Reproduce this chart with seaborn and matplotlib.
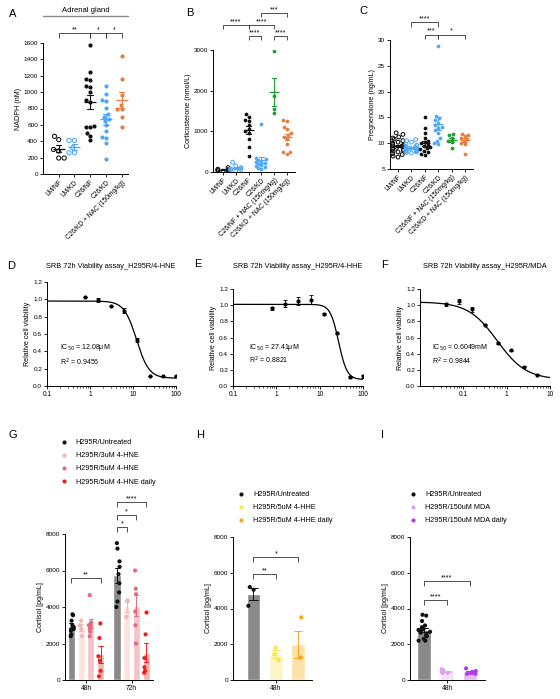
import numpy as np
import pandas as pd
import matplotlib
matplotlib.use("Agg")
import matplotlib.pyplot as plt
import seaborn as sns
from matplotlib.lines import Line2D
from matplotlib.ticker import FuncFormatter, LogLocator, NullFormatter

np.random.seed(3)

# ---------------- data ----------------
# Panel A: NADPH (nM), adrenal gland
a_cats = ["LM/NF", "LM/KD", "C26/NF", "C26/KD", "C26/KD + NAC (150mg/kg)"]
a_lmnf = [460, 420, 280, 195, 195, 300]
a_lmkd = [410, 410, 320, 260, 260]
a_c26nf = [1580, 1250, 1160, 1150, 1070, 1060, 1000, 900, 880, 590, 580, 570, 500, 470, 410]
a_c26kd = [1080, 980, 900, 890, 810, 730, 700, 670, 650, 600, 530, 450, 440, 380, 180]
a_c26kd_nac = [1440, 1160, 960, 840, 800, 790, 700, 570]

# Panel B: Corticosterone (nmol/L)
b_cats = ["LM/NF", "LM/KD", "C26/NF", "C26/KD", "C26/NF + NAC (150mg/kg)", "C26/KD + NAC (150mg/kg)"]
b_lmnf = [110, 70, 50, 40, 30, 20, 60]
b_lmkd = [240, 150, 100, 80, 60, 50, 30, 100]
b_c26nf = [1420, 1350, 1280, 1250, 1150, 1050, 1000, 950, 800, 620, 400]
b_c26kd = [1180, 350, 320, 300, 280, 250, 230, 200, 180, 150, 120, 100, 80]
b_c26nf_nac = [2980, 1880, 1550, 1450]
b_c26kd_nac = [1280, 1250, 1100, 1050, 950, 900, 870, 800, 700, 500, 450, 480]

# Panel C: Pregnenolone (ng/mL)
c_cats = b_cats
c_lmnf = [12, 11.7, 11.2, 11, 10.5, 10.2, 10, 9.8, 9.6, 9.5, 9.3, 9.2, 9, 8.8, 8.6, 8.5,
          8.3, 8, 7.8, 7.5, 7.3, 9.4, 10.8, 8.9]
c_lmkd = [10.7, 10.5, 10.2, 9.8, 9.5, 9.3, 9.1, 9, 8.9, 8.7, 8.6, 8.5, 8.4, 8.3, 8.2, 8.8,
          9.2, 8.1, 8.5, 9.6]
c_c26nf = [15, 13, 12, 11, 10.5, 10, 9.5, 9.2, 9, 8.8, 8.5, 8.3, 8, 7.8, 9.7, 10.2]
c_c26kd = [28.8, 15.3, 14.8, 14.5, 14, 13.5, 13.2, 13, 12.5, 12, 11, 10.5, 10, 9.8]
c_c26nf_nac = [11.7, 11.5, 11, 10.5, 10.2, 9]
c_c26kd_nac = [11.8, 11.6, 11.3, 11, 10.8, 10.5, 10, 9.8, 8]

# Panels D-F: SRB viability
d_conc = [0.78125, 1.5625, 3.125, 6.25, 12.5, 25, 50, 100]
d_resp = [1.03, 0.99, 0.92, 0.87, 0.53, 0.11, 0.11, 0.11]
d_err = [0.0, 0.02, 0.0, 0.03, 0.02, 0.0, 0.01, 0.01]
d_fit = dict(top=0.98, bottom=0.09, ic50=12.08, hill=3.0)

e_conc = [0.78125, 1.5625, 3.125, 6.25, 12.5, 25, 50, 100]
e_resp = [0.96, 1.02, 1.05, 1.07, 0.89, 0.65, 0.11, 0.12]
e_err = [0.02, 0.04, 0.05, 0.05, 0.01, 0.01, 0.01, 0.02]
e_fit = dict(top=1.01, bottom=0.08, ic50=27.41, hill=4.5)

f_conc = [0.039, 0.078, 0.156, 0.3125, 0.625, 1.25, 2.5, 5]
f_resp = [1.01, 1.05, 0.95, 0.76, 0.53, 0.44, 0.24, 0.14]
f_err = [0.02, 0.03, 0.03, 0.01, 0.01, 0.01, 0.01, 0.01]
f_fit = dict(top=1.04, bottom=0.08, ic50=0.6049, hill=1.3)

# Panel G: Cortisol, 4-HNE
g_groups = ["H295R/Untreated", "H295R/3uM 4-HNE", "H295R/5uM 4-HNE", "H295R/5uM 4-HNE daily"]
g_48h = [[3600, 3550, 3250, 3000, 2900, 2800, 2700, 2500, 2400],
         [3250, 3000, 2800, 2400],
         [4650, 3150, 3100, 3000, 2950, 2800, 2650, 2400],
         [3100, 2300, 1300, 1050, 500, 200]]
g_72h = [[7500, 7200, 6500, 6200, 5800, 5300, 4800, 4300, 4000],
         [4350, 4300, 3450],
         [6000, 5000, 4700, 3750, 3000, 2000],
         [3700, 2500, 1200, 700, 500, 400]]

# Panel H: Cortisol, 4-HHE
h_groups = ["H295R/Untreated", "H295R/5uM 4-HHE", "H295R/5uM 4-HHE daily"]
h_48h = [[5200, 5050, 4150], [1800, 1450, 1100], [3500, 1250, 1250]]

# Panel I: Cortisol, MDA
i_groups = ["H295R/Untreated", "H295R/150uM MDA", "H295R/150uM MDA daily"]
i_48h = [[3650, 3600, 3300, 3050, 2950, 2850, 2800, 2750, 2700, 2650, 2600, 2500, 2450,
          2300, 2200, 2200],
         [600, 550, 500, 450, 400, 400],
         [650, 500, 450, 400, 400, 350, 350]]

# ---------------- style ----------------
sns.set_theme(style="ticks")
plt.rcParams["font.family"] = ["Liberation Sans", "DejaVu Sans"]
plt.rcParams.update({
    "axes.linewidth": 0.7, "axes.edgecolor": "black",
    "xtick.major.width": 0.6, "ytick.major.width": 0.6,
    "xtick.major.size": 2.0, "ytick.major.size": 2.0,
    "xtick.minor.size": 1.2, "xtick.minor.width": 0.5,
    "xtick.labelsize": 4.8, "ytick.labelsize": 4.6,
    "axes.labelsize": 5.1, "xtick.major.pad": 1.5, "ytick.major.pad": 1.5,
    "axes.labelpad": 1.5, "xtick.color": "black", "ytick.color": "black",
    "text.color": "black", "axes.labelcolor": "black",
})

BLACK = "#111111"
BLUE = "#4FA8F5"
ORANGE = "#E67E3C"
GREEN = "#1E9E35"

W, H = 560, 699
fig = plt.figure(figsize=(W / 100, H / 100), dpi=100)


def box(x0, y0, x1, y1):
    return fig.add_axes([x0 / W, 1 - y1 / H, (x1 - x0) / W, (y1 - y0) / H])


def letter(x, y, s):
    fig.text(x / W, 1 - y / H, s, fontsize=8, ha="center", va="center")


def bracket(ax, x1, x2, y, tip, text, fs=5.2):
    ax.plot([x1, x1, x2, x2], [y - tip, y, y, y - tip], color="#333333", lw=0.6,
            clip_on=False, solid_capstyle="butt")
    ax.text((x1 + x2) / 2, y, text, ha="center", va="bottom", fontsize=fs, clip_on=False)


def dot_panel(ax, cats, values, colors, open_flags, ylim, xlim, yticks, ylabel,
              size, mean_len, cap):
    rows = [(c, v) for c, vals in zip(cats, values) for v in vals]
    df = pd.DataFrame(rows, columns=["group", "value"])
    pal = dict(zip(cats, colors))
    ax.set_ylim(*ylim)
    for c, op in zip(cats, open_flags):
        sub = df[df["group"] == c]
        n0 = len(ax.collections)
        sns.swarmplot(data=sub, x="group", y="value", order=cats, color=pal[c],
                      size=size, ax=ax, linewidth=0.75 if op else 0,
                      edgecolor=pal[c], warn_thresh=1.0)
        if op:
            for col in ax.collections[n0:]:
                col.set_facecolor("none")
    sns.pointplot(data=df, x="group", y="value", order=cats, hue="group",
                  palette=pal, errorbar="se", capsize=cap, linestyle="none",
                  marker="_", markersize=mean_len, markeredgewidth=0.9,
                  err_kws={"linewidth": 0.8}, legend=False, ax=ax)
    ax.set_xlim(*xlim)
    ax.set_ylim(*ylim)
    ax.set_yticks(yticks)
    ax.set_xticks(range(len(cats)))
    ax.set_xticklabels(cats, rotation=45, ha="right", rotation_mode="anchor")
    ax.set_xlabel("")
    ax.set_ylabel(ylabel)
    sns.despine(ax=ax)
    return df


def dr_panel(ax, conc, resp, err, fit, xlim, xticks):
    xs = np.logspace(np.log10(xlim[0]), np.log10(xlim[1]), 300)
    curve = fit["bottom"] + (fit["top"] - fit["bottom"]) / (1 + (xs / fit["ic50"]) ** fit["hill"])
    sns.lineplot(x=xs, y=curve, color="black", lw=0.9, ax=ax)
    ax.errorbar(conc, resp, yerr=err, fmt="none", ecolor="black", elinewidth=0.6,
                capsize=1.3, capthick=0.6)
    sns.scatterplot(x=conc, y=resp, color="black", s=9, linewidth=0, ax=ax, zorder=3)
    ax.set_xscale("log")
    ax.set_xlim(*xlim)
    ax.set_ylim(0, 1.2)
    ax.set_yticks([0.0, 0.2, 0.4, 0.6, 0.8, 1.0, 1.2])
    ax.yaxis.set_major_formatter(FuncFormatter(lambda v, _: f"{v:.1f}"))
    ax.set_xticks(xticks)
    ax.xaxis.set_major_formatter(FuncFormatter(lambda v, _: f"{v:g}"))
    ax.xaxis.set_minor_locator(LogLocator(base=10, subs=np.arange(2, 10)))
    ax.xaxis.set_minor_formatter(NullFormatter())
    ax.set_ylabel("Relative cell viability")
    sns.despine(ax=ax)


def fit_text(ax, ic, r2, xf, yf):
    ax.text(xf, yf, "IC$_{50}$ = " + ic, transform=ax.transAxes, fontsize=5.0, va="center")
    ax.text(xf, yf - 0.14, "R$^2$ = " + r2, transform=ax.transAxes, fontsize=5.0, va="center")


def bar_panel(ax, times, groups, data_by_time, bar_cols, dot_cols, width, gap, xlim,
              dot_size, cap, jitter):
    rows = []
    for t, per_group in zip(times, data_by_time):
        for g, vals in zip(groups, per_group):
            for v in vals:
                rows.append((t, g, v))
    df = pd.DataFrame(rows, columns=["time", "group", "value"])
    n = len(groups)
    sns.barplot(data=df, x="time", y="value", hue="group", order=times,
                hue_order=groups, palette=dict(zip(groups, bar_cols)), errorbar=None,
                width=width, gap=gap, saturation=1, legend=False, ax=ax)
    sns.stripplot(data=df, x="time", y="value", hue="group", order=times,
                  hue_order=groups, palette=dict(zip(groups, dot_cols)), dodge=True,
                  jitter=jitter, size=dot_size, linewidth=0, legend=False,
                  ax=ax, zorder=3)
    span = width * (n - 1) / n
    sns.pointplot(data=df, x="time", y="value", hue="group", order=times,
                  hue_order=groups, palette=dict(zip(groups, dot_cols)), dodge=span,
                  errorbar="se", capsize=cap, linestyle="none", markersize=0,
                  err_kws={"linewidth": 0.7}, legend=False, ax=ax)
    ax.set_xlim(*xlim)
    ax.set_ylim(0, 8000)
    ax.set_yticks([0, 2000, 4000, 6000, 8000])
    ax.set_xlabel("")
    ax.set_ylabel("Cortisol [pg/mL]")
    sns.despine(ax=ax)
    offs = [(-span / 2 + span / (n - 1) * k) for k in range(n)]
    return offs


def bar_legend(ax, groups, dot_cols, x_px, y_px, pad):
    handles = [Line2D([], [], marker="o", ls="none", color=c, markersize=3.0,
                      markeredgewidth=0) for c in dot_cols]
    ax.legend(handles, groups, loc="upper left", bbox_to_anchor=(x_px / W, 1 - y_px / H),
              bbox_transform=fig.transFigure, frameon=False, fontsize=5.2,
              handlelength=1.0, handletextpad=pad, labelspacing=0.85, borderpad=0,
              borderaxespad=0)


# ---------------- Panel A ----------------
axA = box(43, 43, 128, 174)
dot_panel(axA, a_cats, [a_lmnf, a_lmkd, a_c26nf, a_c26kd, a_c26kd_nac],
          [BLACK, BLUE, BLACK, BLUE, ORANGE], [True, True, False, False, False],
          (0, 1600), (-1.0, 4.4), [0, 200, 400, 600, 800, 1000, 1200, 1400, 1600],
          "NADPH (nM)", 3.0, 8, 0.35)
bracket(axA, 0, 2, 1722, 65, "**")
bracket(axA, 2, 3, 1722, 65, "*")
bracket(axA, 3, 4, 1722, 65, "*")
fig.text(85.5 / W, 1 - 10 / H, "Adrenal gland", fontsize=5.5, ha="center", va="center")
fig.add_artist(Line2D([43 / W, 128 / W], [1 - 16 / H, 1 - 16 / H], color="#8c8c8c",
                      lw=1.0, transform=fig.transFigure))
letter(13, 14, "A")

# ---------------- Panel B ----------------
axB = box(213, 50, 295, 172)
dot_panel(axB, b_cats, [b_lmnf, b_lmkd, b_c26nf, b_c26kd, b_c26nf_nac, b_c26kd_nac],
          [BLACK, BLUE, BLACK, BLUE, GREEN, ORANGE],
          [True, True, False, False, False, False],
          (0, 3000), (-0.78, 5.63), [0, 1000, 2000, 3000],
          "Corticosterone (nmol/L)", 2.7, 7, 0.35)
bracket(axB, 0, 2, 3615, 110, "****")
bracket(axB, 2, 4, 3615, 110, "****")
bracket(axB, 3, 5, 3910, 110, "***")
bracket(axB, 2, 3, 3344, 110, "****")
bracket(axB, 4, 5, 3344, 110, "****")
letter(190, 13, "B")

# ---------------- Panel C ----------------
axC = box(390, 40, 473, 169)
dot_panel(axC, c_cats, [c_lmnf, c_lmkd, c_c26nf, c_c26kd, c_c26nf_nac, c_c26kd_nac],
          [BLACK, BLUE, BLACK, BLUE, GREEN, ORANGE],
          [True, True, False, False, False, False],
          (5, 30), (-0.6, 5.6), [5, 10, 15, 20, 25, 30],
          "Pregnenolone (ng/mL)", 2.7, 7, 0.35)
bracket(axC, 1, 3, 33.5, 0.9, "****")
bracket(axC, 2, 3, 31.0, 0.9, "***")
bracket(axC, 3, 5, 31.0, 0.9, "*")
letter(363, 11, "C")

# ---------------- Panel D ----------------
axD = box(47, 282, 176, 386)
dr_panel(axD, d_conc, d_resp, d_err, d_fit, (0.1, 100), [0.1, 1, 10, 100])
fit_text(axD, "12.08μM", "0.9456", 0.1, 0.37)
fig.text(111 / W, 1 - 267 / H, "SRB 72h Viability assay_H295R/4-HNE", fontsize=5.3,
         ha="center", va="center")
letter(11, 266, "D")

# ---------------- Panel E ----------------
axE = box(233, 289, 363, 386)
dr_panel(axE, e_conc, e_resp, e_err, e_fit, (0.1, 100), [0.1, 1, 10, 100])
fit_text(axE, "27.41μM", "0.8821", 0.12, 0.40)
fig.text(298 / W, 1 - 266 / H, "SRB 72h Viability assay_H295R/4-HHE", fontsize=5.3,
         ha="center", va="center")
letter(198, 264, "E")

# ---------------- Panel F ----------------
axF = box(420, 289, 550, 386)
dr_panel(axF, f_conc, f_resp, f_err, f_fit, (0.01, 10), [0.1, 1, 10])
fit_text(axF, "0.6049mM", "0.9844", 0.09, 0.39)
fig.text(485 / W, 1 - 267 / H, "SRB 72h Viability assay_H295R/MDA", fontsize=5.3,
         ha="center", va="center")
letter(385, 265, "F")

# ---------------- Panel G ----------------
axG = box(65, 534, 153, 680)
g_bar = ["#8a8a8a", "#FDE3DF", "#F4C2C8", "#F8B3AD"]
g_dot = ["#111111", "#F6B4AA", "#E8687C", "#F41D1D"]
offG = bar_panel(axG, ["48h", "72h"], g_groups, [g_48h, g_72h], g_bar, g_dot,
                 0.85, 0.27, (-0.46, 1.47), 3.0, 0.09, 0.16)
bracket(axG, 0 + offG[0], 0 + offG[3], 5590, 260, "**")
bracket(axG, 1 + offG[0], 1 + offG[1], 8380, 260, "*")
bracket(axG, 1 + offG[0], 1 + offG[2], 9040, 260, "*")
bracket(axG, 1 + offG[0], 1 + offG[3], 9750, 260, "****")
bar_legend(axG, g_groups, g_dot, 60.5, 439, 1.1)
letter(13, 435, "G")

# ---------------- Panel H ----------------
axH = box(233, 537, 312, 680)
h_bar = ["#8a8a8a", "#FCF5C6", "#FBE2A6"]
h_dot = ["#111111", "#F7E35C", "#F6A623"]
offH = bar_panel(axH, ["48h"], h_groups, [h_48h], h_bar, h_dot,
                 0.8, 0.38, (-0.51, 0.43), 3.0, 0.1, 0.22)
bracket(axH, offH[0], offH[1], 5925, 270, "**")
bracket(axH, offH[0], offH[2], 6875, 270, "*")
bar_legend(axH, h_groups, h_dot, 237.5, 491, 1.2)
letter(200, 435, "H")

# ---------------- Panel I ----------------
axI = box(410, 537, 485, 680)
i_bar = ["#8a8a8a", "#F5E0FA", "#E5B8F5"]
i_dot = ["#111111", "#DBA2F0", "#B23CE8"]
offI = bar_panel(axI, ["48h"], i_groups, [i_48h], i_bar, i_dot,
                 0.8, 0.38, (-0.43, 0.44), 3.0, 0.1, 0.22)
bracket(axI, offI[0], offI[1], 4470, 270, "****")
bracket(axI, offI[0], offI[2], 5530, 270, "****")
bar_legend(axI, i_groups, i_dot, 409.5, 491, 1.2)
letter(382, 435, "I")

fig.savefig("out.png", dpi=100)
